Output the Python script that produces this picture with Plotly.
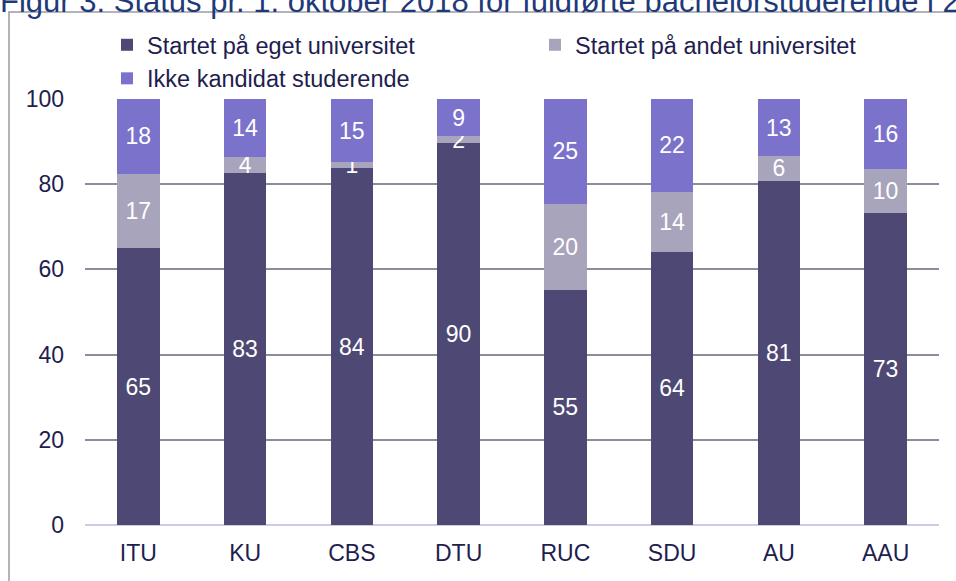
import plotly.graph_objects as go

# universities on the x axis
universities = ["ITU", "KU", "CBS", "DTU", "RUC", "SDU", "AU", "AAU"]

# shares in percent (labels are rounded)
eget = [65.0, 82.6, 83.8, 89.6, 55.2, 64.1, 80.8, 73.2]
andet = [17.4, 3.8, 1.3, 1.7, 20.2, 14.1, 5.8, 10.4]
ikke_kandidat = [17.6, 13.6, 14.9, 8.7, 24.6, 21.8, 13.4, 16.4]

series_names = ["Startet på eget universitet",
                "Startet på andet universitet",
                "Ikke kandidat studerende"]
colors = ["#4e4874", "#a8a4bc", "#7b72cc"]
# first and last series share the left legend column, the middle one sits to the right
legend_ids = ["legend", "legend2", "legend"]

yticks = [0, 20, 40, 60, 80, 100]

title = "Figur 3: Status pr. 1. oktober 2018 for fuldførte bachelorstuderende i 2017"

navy = "#221d4f"

fig = go.Figure()
for name, vals, col, lg in zip(series_names, [eget, andet, ikke_kandidat], colors, legend_ids):
    fig.add_trace(go.Bar(
        x=universities, y=vals, name=name, legend=lg,
        marker=dict(color=col, line=dict(width=0)),
        texttemplate="%{y:.0f}", textposition="inside",
        insidetextanchor="middle", textangle=0,
        textfont=dict(color="white", size=23, family="Liberation Sans, Arial"),
        hoverinfo="x+y+name",
    ))

# plot area in pixels: x 85..939, y 99..525
L, R, T, B = 85, 17, 99, 56
W, H = 956, 581
pw, ph = W - L - R, H - T - B

def px_x(p):
    return (p - L) / pw

def px_y(p):
    return 1 + (T - p) / ph

legend_style = dict(yanchor="top", xanchor="left", orientation="v",
                    font=dict(size=23.5, color=navy), traceorder="normal",
                    bgcolor="rgba(0,0,0,0)", tracegroupgap=0)

fig.update_layout(
    width=W, height=H,
    barmode="stack", bargap=0.6,
    margin=dict(l=L, r=R, t=T, b=B),
    paper_bgcolor="white", plot_bgcolor="white",
    font=dict(family="Liberation Sans, Arial", color=navy, size=23),
    uniformtext=dict(minsize=23, mode="show"),
    showlegend=True,
    legend=dict(x=px_x(107), y=px_y(23), **legend_style),
    legend2=dict(x=px_x(535), y=px_y(23), **legend_style),
    xaxis=dict(showgrid=False, ticks="", showline=False, zeroline=False,
               ticklabelstandoff=12,
               tickfont=dict(size=23, color=navy)),
    yaxis=dict(range=[0, 100], tickvals=yticks, showgrid=True,
               gridcolor="#8e8c9a", gridwidth=2, zeroline=True,
               zerolinecolor="#cdcbe8", zerolinewidth=2, showline=False,
               ticks="", ticklabelstandoff=20,
               tickfont=dict(size=23, color=navy)),
    shapes=[dict(type="rect", xref="paper", yref="paper",
                 x0=px_x(9), x1=px_x(1000), y0=px_y(12), y1=px_y(640),
                 line=dict(color="#9a9aa6", width=1.5), fillcolor="rgba(0,0,0,0)",
                 layer="below")],
    annotations=[dict(text=title, xref="paper", yref="paper",
                      x=px_x(-2), y=px_y(21), xanchor="left", yanchor="bottom",
                      showarrow=False,
                      font=dict(size=31, color="#1f3a78", family="Liberation Sans, Arial"))],
)

fig.write_html("out.html", config={"displayModeBar": False},
               post_script="document.body.style.margin='0';")
